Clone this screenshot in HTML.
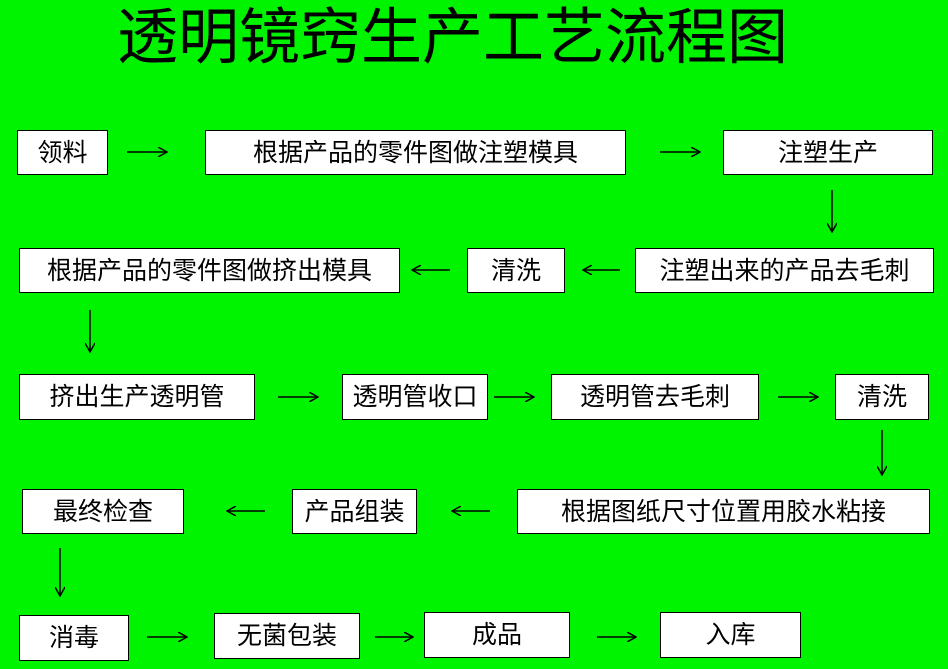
<!DOCTYPE html>
<html><head><meta charset="utf-8"><style>
html,body{margin:0;padding:0}
body{width:948px;height:669px;background:#00f400;position:relative;overflow:hidden;font-family:"Liberation Sans","Noto Sans CJK SC",sans-serif}
.t{position:absolute;left:117px;top:2px;font-size:61px;line-height:70px;color:#000;white-space:nowrap}
.b{position:absolute;background:#fff;border:1px solid #000;box-sizing:border-box;display:flex;align-items:center;justify-content:center;font-size:25px;color:#000;white-space:nowrap;padding-bottom:4px}
svg{position:absolute;left:0;top:0}
</style></head><body>
<div class="t">透明镜窍生产工艺流程图</div>
<div class="b" style="left:17px;top:130px;width:91px;height:45px">领料</div>
<div class="b" style="left:205px;top:130px;width:421px;height:45px">根据产品的零件图做注塑模具</div>
<div class="b" style="left:723px;top:130px;width:210px;height:45px">注塑生产</div>
<div class="b" style="left:19px;top:248px;width:381px;height:45px">根据产品的零件图做挤出模具</div>
<div class="b" style="left:467px;top:248px;width:98px;height:45px">清洗</div>
<div class="b" style="left:635px;top:248px;width:299px;height:45px">注塑出来的产品去毛刺</div>
<div class="b" style="left:19px;top:374px;width:236px;height:46px">挤出生产透明管</div>
<div class="b" style="left:342px;top:374px;width:146px;height:46px">透明管收口</div>
<div class="b" style="left:551px;top:374px;width:208px;height:46px">透明管去毛刺</div>
<div class="b" style="left:835px;top:374px;width:94px;height:46px">清洗</div>
<div class="b" style="left:22px;top:489px;width:162px;height:45px">最终检查</div>
<div class="b" style="left:292px;top:489px;width:125px;height:45px">产品组装</div>
<div class="b" style="left:517px;top:489px;width:413px;height:45px">根据图纸尺寸位置用胶水粘接</div>
<div class="b" style="left:19px;top:615px;width:110px;height:46px">消毒</div>
<div class="b" style="left:214px;top:613px;width:146px;height:46px">无菌包装</div>
<div class="b" style="left:424px;top:612px;width:146px;height:46px">成品</div>
<div class="b" style="left:660px;top:612px;width:141px;height:46px">入库</div>
<svg width="948" height="669">
<defs><marker id="a" markerWidth="10" markerHeight="10" refX="9" refY="5" orient="auto" markerUnits="userSpaceOnUse"><path d="M0,0 L9,5 L0,10" fill="none" stroke="#000" stroke-width="1.5"/></marker></defs>
<g stroke="#000" stroke-width="1.5" marker-end="url(#a)">
<line x1="127" y1="152" x2="167" y2="152"/>
<line x1="660" y1="152" x2="700" y2="152"/>
<line x1="832" y1="190" x2="832" y2="232"/>
<line x1="450" y1="270" x2="412" y2="270"/>
<line x1="620" y1="270" x2="583" y2="270"/>
<line x1="90" y1="310" x2="90" y2="352"/>
<line x1="278" y1="397" x2="318" y2="397"/>
<line x1="494" y1="397" x2="534" y2="397"/>
<line x1="778" y1="397" x2="818" y2="397"/>
<line x1="882" y1="430" x2="882" y2="475"/>
<line x1="265" y1="511" x2="227" y2="511"/>
<line x1="490" y1="511" x2="452" y2="511"/>
<line x1="60" y1="548" x2="60" y2="596"/>
<line x1="147" y1="637" x2="187" y2="637"/>
<line x1="375" y1="637" x2="413" y2="637"/>
<line x1="597" y1="637" x2="636" y2="637"/>
</g></svg>
</body></html>
